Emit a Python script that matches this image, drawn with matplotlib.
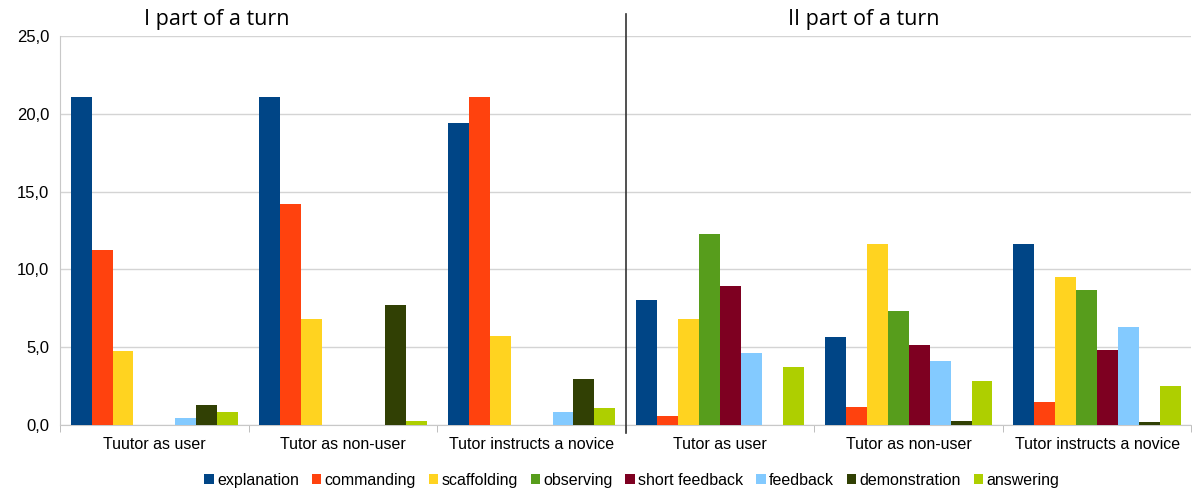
import numpy as np
import matplotlib
matplotlib.use('Agg')
import matplotlib.pyplot as plt
from matplotlib.ticker import FuncFormatter

# categories (3 situations, first and second part of a turn)
categories = ['Tuutor as user', 'Tutor as non-user', 'Tutor instructs a novice',
              'Tutor as user', 'Tutor as non-user', 'Tutor instructs a novice']
series = ['explanation', 'commanding', 'scaffolding', 'observing',
          'short feedback', 'feedback', 'demonstration', 'answering']

explanation = [21.1, 21.05, 19.4, 8.05, 5.65, 11.6]
commanding = [11.25, 14.2, 21.1, 0.58, 1.15, 1.47]
scaffolding = [4.75, 6.8, 5.7, 6.8, 11.65, 9.5]
observing = [0, 0, 0, 12.25, 7.3, 8.65]
short_feedback = [0, 0, 0, 8.95, 5.15, 4.85]
feedback = [0.47, 0, 0.82, 4.65, 4.12, 6.3]
demonstration = [1.28, 7.7, 2.95, 0, 0.24, 0.2]
answering = [0.85, 0.26, 1.07, 3.75, 2.82, 2.5]

values = [explanation, commanding, scaffolding, observing,
          short_feedback, feedback, demonstration, answering]
colors = ['#004586', '#ff420e', '#ffd320', '#579d1c',
          '#7e0021', '#83caff', '#314004', '#aecf00']

plt.rcParams['font.family'] = ['Liberation Sans', 'DejaVu Sans']

fig = plt.figure(figsize=(11.92, 4.9), dpi=100)
ax = fig.add_axes([0.0505, 0.1327, 0.949, 0.7938])

x = np.arange(len(categories))
n = len(series)
w = 0.89 / n
for i in range(n):
	ax.bar(x - 0.445 + w * (i + 0.5), values[i], width=w, color=colors[i],
	       label=series[i], zorder=3)

ax.set_xlim(-0.5, len(categories) - 0.5)
ax.set_ylim(0, 25)
ax.set_yticks(np.arange(0, 26, 5))
ax.yaxis.set_major_formatter(FuncFormatter(lambda v, p: f'{v:.1f}'.replace('.', ',')))
ax.set_xticks(x)
ax.set_xticklabels(categories)
ax.set_xticks(np.arange(-0.5, len(categories), 1), minor=True)
ax.tick_params(axis='x', which='major', length=0, pad=9, labelsize=11.5)
ax.tick_params(axis='x', which='minor', length=5, color='#b3b3b3')
ax.tick_params(axis='y', length=0, pad=8, labelsize=12)

ax.grid(axis='y', color='#d4d4d4', linewidth=1, zorder=0)
for s in ['top', 'right']:
	ax.spines[s].set_visible(False)
ax.spines['left'].set_color('#c8c8c8')
ax.spines['bottom'].set_color('#c8c8c8')

# divider between the two parts of a turn
ax.plot([2.5, 2.5], [-0.5, 26.4], color='#333333', linewidth=1.2,
        clip_on=False, zorder=4)

ax.text(0.33, 26.05, 'I part of a turn', fontsize=15.5, family=['Open Sans', 'DejaVu Sans'],
        ha='center', va='center')
ax.text(3.76, 26.05, 'II part of a turn', fontsize=15.5, family=['Open Sans', 'DejaVu Sans'],
        ha='center', va='center')

fig.legend(loc='lower center', bbox_to_anchor=(0.53, -0.025), ncol=n, frameon=False,
           fontsize=11.5, handlelength=0.6, handleheight=0.6, handletextpad=0.2,
           columnspacing=0.8)

fig.savefig('out.png', dpi=100)
